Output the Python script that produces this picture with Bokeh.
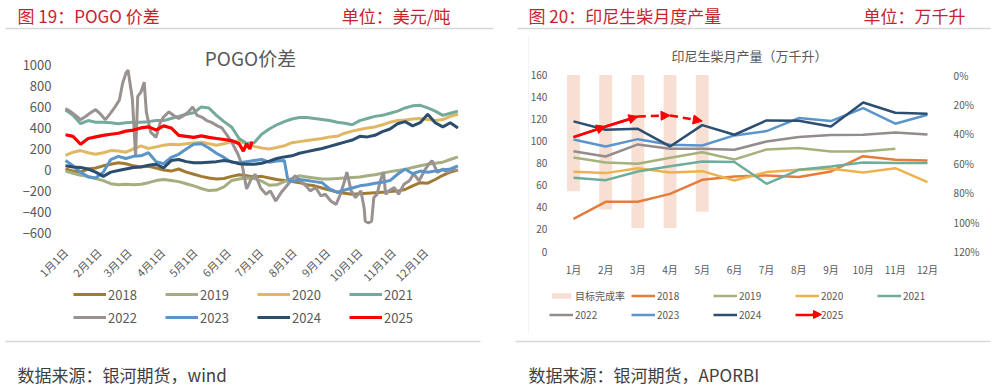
import math
from bokeh.plotting import figure
from bokeh.models import (Range1d, FixedTicker, Label, PolyAnnotation, Legend, LegendItem,
                          Arrow, NormalHead, ColumnDataSource, LinearAxis, PrintfTickFormatter)
from bokeh.embed import file_html
from bokeh.resources import INLINE

CJK = "Noto Sans CJK SC"
HEAD_RED = "#C8232C"
TXT = "#595959"
RULE = "#7F7F7F"
W, H = 996, 387

# ---------------- left chart: POGO spread (USD/t) ----------------
month_start_days = [0, 31, 59, 90, 120, 151, 181, 212, 243, 273, 304, 334]
month_day_labels = ["1月1日", "2月1日", "3月1日", "4月1日", "5月1日", "6月1日",
                    "7月1日", "8月1日", "9月1日", "10月1日", "11月1日", "12月1日"]
pogo_y_ticks = [-600, -400, -200, 0, 200, 400, 600, 800, 1000]

week_days = [0, 7, 14, 21, 28, 35, 42, 49, 56, 63, 70, 77, 84, 91, 98, 105, 112, 119,
             126, 133, 140, 147, 154, 161, 168, 175, 182, 189, 196, 203, 210, 217, 224,
             231, 238, 245, 252, 259, 266, 273, 280, 287, 294, 301, 308, 315, 322, 329,
             336, 343, 350, 357, 364]

pogo_2018 = [10, -10, -20, 10, 20, 40, 55, 70, 60, 40, 30, 35, 20, 0, -10, 10, -20, -40,
             -60, -75, -85, -80, -60, -45, -55, -65, -60, -75, -90, -100, -110, -120, -140,
             -150, -170, -190, -210, -220, -230, -225, -220, -215, -210, -205, -200, -185,
             -150, -120, -125, -90, -50, -20, 0]
pogo_2019 = [-10, -30, -50, -60, -80, -100, -130, -140, -135, -140, -135, -120, -100, -90,
             -100, -110, -130, -150, -175, -195, -190, -160, -100, -85, -75, -80, -105, -145,
             -140, -110, -80, -55, -65, -75, -85, -85, -80, -75, -70, -65, -55, -45, -30, -15,
             -5, 5, 25, 40, 55, 65, 75, 100, 125]
pogo_2020 = [140, 170, 185, 165, 150, 165, 185, 180, 170, 200, 230, 205, 220, 235, 245, 240,
             250, 258, 265, 250, 235, 250, 270, 275, 250, 225, 210, 200, 215, 230, 260, 270,
             280, 290, 300, 315, 320, 350, 370, 385, 400, 410, 430, 455, 470, 475, 485, 490,
             480, 470, 480, 510, 530]
pogo_2021 = [570, 520, 440, 470, 455, 455, 450, 440, 450, 455, 455, 460, 470, 470, 490, 510,
             530, 545, 600, 590, 520, 460, 410, 300, 255, 260, 340, 390, 430, 460, 485, 500,
             500, 490, 480, 470, 455, 445, 430, 470, 490, 510, 520, 540, 560, 590, 610, 615,
             590, 560, 520, 540, 560]
pogo_2024 = [40, 30, 25, 10, -20, -60, -20, -5, 10, 25, 30, 45, 55, 20, 90, 100, 80, 70, 70,
             75, 80, 90, 80, 60, 55, 55, 65, 85, 110, 125, 135, 160, 175, 190, 205, 225, 245,
             265, 285, 320, 315, 330, 365, 390, 440, 460, 420, 450, 530, 450, 410, 450, 400]

days_2022 = [0, 5, 9, 14, 19, 23, 28, 32, 37, 42, 46, 50, 53, 56, 58, 62, 65, 67, 70, 73,
             75, 79, 84, 88, 91, 96, 100, 105, 110, 114, 118, 122, 127, 131, 136, 141, 145,
             150, 155, 160, 164, 168, 172, 176, 181, 186, 190, 195, 200, 204, 209, 213, 218,
             223, 227, 232, 237, 241, 246, 251, 255, 259, 261, 265, 269, 274, 277, 278, 281,
             284, 286, 289, 292, 295, 297, 300, 305, 309, 314, 319, 323, 328, 333, 337, 340,
             345, 350, 354, 359, 364]
pogo_2022 = [585, 553, 521, 479, 511, 543, 575, 537, 479, 543, 600, 665, 824, 920, 950, 680,
             140, 700, 740, 835, 550, 360, 310, 455, 505, 553, 521, 489, 521, 553, 600, 520,
             500, 470, 450, 420, 400, 330, 250, 150, 40, -180, -90, -40, -170, -230, -198,
             -294, -214, -166, -102, -54, -102, -150, -198, -166, -246, -230, -294, -326,
             -230, -100, -20, -198, -262, -198, -358, -486, -502, -486, -262, -230, -102,
             -22, -230, -198, -166, -230, -134, -102, -38, -102, -6, 58, 89, -22, 10, -22,
             10, -6]

days_2023 = [0, 7, 14, 21, 28, 35, 42, 49, 56, 63, 70, 77, 84, 91, 98, 105, 112, 119, 126,
             133, 140, 147, 154, 161, 168, 175, 182, 189, 196, 203, 206, 210, 217, 224, 231,
             238, 245, 252, 259, 266, 273, 280, 287, 294, 301, 308, 315, 322, 329, 336, 343,
             350, 357, 364]
pogo_2023 = [90, 40, -20, -65, -75, -20, 100, 130, 110, 130, 135, 165, 80, 60, 120, 150, 200,
             245, 250, 210, 160, 120, 75, 70, 80, 90, 100, 75, 85, 90, -80, -110, -90, -100,
             -110, -120, -180, -210, -190, -170, -150, -140, -125, -115, -100, -40, 10, -35,
             -10, -20, -10, 0, 10, 40]

days_2025 = [0, 7, 14, 21, 28, 35, 42, 49, 56, 63, 70, 77, 84, 91, 98, 105, 112, 119, 126,
             133, 140, 147, 154, 161, 165, 168, 171, 173]
pogo_2025 = [335, 320, 245, 300, 315, 330, 340, 350, 370, 380, 400, 410, 380, 420, 400, 330,
             320, 310, 325, 310, 300, 290, 280, 250, 180, 250, 200, 270]

pogo_years = ["2018", "2019", "2020", "2021", "2022", "2023", "2024", "2025"]
pogo_colors = ["#A27B32", "#A4AE80", "#E0B762", "#74AA9B", "#9A9191", "#5A94C8",
               "#2B4D6E", "#FF0000"]
pogo_series = [(week_days, pogo_2018), (week_days, pogo_2019), (week_days, pogo_2020),
               (week_days, pogo_2021), (days_2022, pogo_2022), (days_2023, pogo_2023),
               (week_days, pogo_2024), (days_2025, pogo_2025)]
for d, v in pogo_series:
    assert len(d) == len(v), (len(d), len(v))

# ---------------- right chart: Indonesia biodiesel monthly output ----------------
months = ["1月", "2月", "3月", "4月", "5月", "6月", "7月", "8月", "9月", "10月", "11月", "12月"]
prod_ticks = [0, 20, 40, 60, 80, 100, 120, 140, 160]
rate_ticks = [0, 20, 40, 60, 80, 100, 120]
target_rate = [79, 91.5, 104, 104, 93]          # 目标完成率 (%)
prod_2018 = [29.6, 45.1, 45.1, 52.3, 65.0, 68.0, 69.0, 67.5, 72.6, 86.5, 83.2, 82.6]
prod_2019 = [85.3, 80.8, 79.6, 85.0, 90.1, 83.5, 92.6, 93.8, 90.7, 90.7, 93.2]
prod_2020 = [72.3, 71.1, 75.6, 71.7, 72.9, 64.4, 72.0, 74.1, 75.0, 71.7, 75.6, 62.9]
prod_2021 = [66.8, 64.7, 72.6, 77.4, 81.7, 81.1, 61.4, 74.1, 77.1, 80.8, 80.2, 80.2]
prod_2022 = [91.0, 86.2, 97.1, 93.2, 93.2, 92.3, 99.8, 103.8, 105.6, 105.9, 108.0, 106.2]
prod_2023 = [101.6, 95.3, 101.9, 96.8, 96.2, 105.3, 109.2, 121.0, 118.3, 130.0, 115.9, 124.0]
prod_2024 = [118.0, 110.4, 111.3, 95.3, 114.6, 105.9, 118.9, 118.6, 113.4, 135.2, 125.8, 124.9]
prod_2025 = [103.7, 113.4, 122.5, 123.4, 118.3]
prod_colors = ["#E67C3A", "#A6B27C", "#EDB24E", "#6EAD9B", "#948B8B", "#5B95CB", "#2D4E70"]
prod_series = [prod_2018, prod_2019, prod_2020, prod_2021, prod_2022, prod_2023, prod_2024]
month_pos = list(range(1, len(months) + 1))


# ---------------- one canvas; each chart gets its own scales ----------------
def span_range(v0, c0, v1, c1, total):
    """Range whose values v0/v1 fall on canvas pixels c0/c1 (canvas spans 0..total)."""
    k = (v1 - v0) / (c1 - c0)
    return Range1d(start=v0 - c0 * k, end=v0 + (total - c0) * k)


p = figure(width=W, height=H, x_range=Range1d(0, W), y_range=Range1d(0, H),
           x_axis_type=None, y_axis_type=None, min_border=0, output_backend="svg",
           toolbar_location=None, outline_line_color=None)
p.background_fill_color = "white"

# left plot area: day 0 at x=65, day 364 at x=457; 1000 at y=64, -600 at y=233 (from top)
p.extra_x_ranges["xl"] = span_range(0, 65.0, 364, 457.4, W)
p.extra_y_ranges["yl"] = span_range(-600, H - 232.7, 1000, H - 64.3, H)
# right plot area: month 1 at x=573, month 12 at x=927; 0 at y=251, 160 at y=74.6
p.extra_x_ranges["xr"] = span_range(1, 573.0, 12, 927.0, W)
p.extra_y_ranges["yr"] = span_range(0, H - 251.0, 160, H - 74.6, H)
p.extra_y_ranges["rate"] = span_range(0, H - 74.6, 120, H - 251.0, H)


def style_axis(ax, size, standoff):
    ax.axis_line_color = None
    ax.major_tick_line_color = None
    ax.minor_tick_line_color = None
    ax.major_tick_out = 0
    ax.major_tick_in = 0
    ax.minor_tick_out = 0
    ax.minor_tick_in = 0
    ax.major_label_text_font = CJK
    ax.major_label_text_font_size = size
    ax.major_label_text_color = TXT
    ax.major_label_standoff = standoff


def text(x, y, s, size, color, align="left"):
    p.add_layout(Label(x=x, y=H - y, text=s, text_font=CJK, text_font_size=size,
                       text_color=color, text_align=align, text_baseline="middle"))


def rule(xs, ys, color=RULE, width=1.5):
    p.add_layout(PolyAnnotation(xs=xs, ys=[H - y for y in ys], line_color=color,
                                line_width=width, fill_alpha=0))


# ---- left chart ----
ax = LinearAxis(x_range_name="xl", y_range_name="yl", fixed_location=week_days[0],
                ticker=FixedTicker(ticks=pogo_y_ticks))
style_axis(ax, "13px", 14)
p.add_layout(ax, "left")
ax = LinearAxis(x_range_name="xl", y_range_name="yl", fixed_location=pogo_y_ticks[0],
                ticker=FixedTicker(ticks=month_start_days),
                major_label_overrides={d: s for d, s in zip(month_start_days, month_day_labels)},
                major_label_orientation=math.pi / 4)
style_axis(ax, "11px", 17)
p.add_layout(ax, "below")
p.add_layout(PolyAnnotation(xs=[week_days[0], week_days[-1]], ys=[0, 0], x_range_name="xl",
                            y_range_name="yl", line_color="#D9D9D9", line_width=1,
                            fill_alpha=0))

items1 = []
for yr, col, (d, v) in zip(pogo_years, pogo_colors, pogo_series):
    r = p.line(d, v, x_range_name="xl", y_range_name="yl", line_color=col,
               line_width=3.2 if yr == "2025" else 3)
    items1.append(LegendItem(label=yr, renderers=[r]))
p.add_layout(Legend(items=items1, ncols=4, orientation="horizontal", location=(73, H - 327.5),
                    glyph_width=33, glyph_height=10, label_height=21, label_width=55,
                    label_standoff=2, spacing=2, padding=0, margin=0, border_line_color=None,
                    background_fill_alpha=0, label_text_font=CJK, label_text_font_size="13px",
                    label_text_color=TXT))

text(17, 15, "图 19：POGO 价差", "17px", HEAD_RED)
text(450, 15, "单位：美元/吨", "17px", HEAD_RED, align="right")
rule([5, 493], [28, 28])
text(250, 57, "POGO价差", "19px", TXT, align="center")
rule([5, 480], [341, 341])
text(17, 374, "数据来源：银河期货，wind", "17px", "#404040")

# ---- right chart ----
rule([528, 528], [35, 333], color="#D9D9D9", width=1)
bars = p.vbar(x=month_pos[:len(target_rate)], top=0, bottom=target_rate, width=0.4,
              x_range_name="xr", y_range_name="rate", fill_color="#F7E0D3", line_color=None)
ax = LinearAxis(x_range_name="xr", y_range_name="yr", fixed_location=month_pos[0] - 0.5,
                ticker=FixedTicker(ticks=prod_ticks))
style_axis(ax, "10px", 10)
p.add_layout(ax, "left")
ax = LinearAxis(x_range_name="xr", y_range_name="rate", fixed_location=month_pos[-1] + 0.5,
                ticker=FixedTicker(ticks=rate_ticks), formatter=PrintfTickFormatter(format="%d%%"))
style_axis(ax, "10px", 10)
ax.major_label_text_align = "left"
p.add_layout(ax, "right")
ax = LinearAxis(x_range_name="xr", y_range_name="yr", fixed_location=prod_ticks[0],
                ticker=FixedTicker(ticks=month_pos),
                major_label_overrides={i: m for i, m in zip(month_pos, months)})
style_axis(ax, "10px", 10)
p.add_layout(ax, "below")
p.add_layout(PolyAnnotation(xs=[month_pos[0] - 0.5, month_pos[-1] + 0.5], ys=[0, 0],
                            x_range_name="xr", y_range_name="yr", line_color="#D9D9D9",
                            line_width=1, fill_alpha=0))

items2 = [LegendItem(label="目标完成率", renderers=[bars])]
for yr, col, vals in zip(pogo_years[:7], prod_colors, prod_series):
    r = p.line(month_pos[:len(vals)], vals, x_range_name="xr", y_range_name="yr",
               line_color=col, line_width=2.5)
    items2.append(LegendItem(label=yr, renderers=[r]))

n25 = len(prod_2025)
r25 = p.line(month_pos[:3], prod_2025[:3], x_range_name="xr", y_range_name="yr",
             line_color="#FF0000", line_width=2.5)
src_solid = ColumnDataSource(dict(x0=month_pos[0:2], y0=prod_2025[0:2],
                                  x1=month_pos[1:3], y1=prod_2025[1:3]))
src_dash = ColumnDataSource(dict(x0=month_pos[2:n25 - 1], y0=prod_2025[2:n25 - 1],
                                 x1=month_pos[3:n25], y1=prod_2025[3:n25]))
for src, dash in ((src_solid, "solid"), (src_dash, "8 5")):
    p.add_layout(Arrow(end=NormalHead(size=9, fill_color="#FF0000", line_color="#FF0000"),
                       source=src, x_start="x0", y_start="y0", x_end="x1", y_end="y1",
                       x_range_name="xr", y_range_name="yr",
                       line_color="#FF0000", line_width=2.5, line_dash=dash))
items2.append(LegendItem(label="2025", renderers=[r25]))
p.add_layout(Legend(items=items2, ncols=5, orientation="horizontal", location=(549, H - 322.5),
                    glyph_width=24, glyph_height=7, label_height=17, label_width=54,
                    label_standoff=2, spacing=2, padding=0, margin=0, border_line_color=None,
                    background_fill_alpha=0, label_text_font=CJK, label_text_font_size="10px",
                    label_text_color=TXT))
# arrow tip on the 2025 legend swatch
p.add_layout(Arrow(end=NormalHead(size=8, fill_color="#FF0000", line_color="#FF0000"),
                   x_start=812, y_start=H - 314, x_end=821, y_end=H - 314,
                   line_color="#FF0000", line_width=2.5))

text(528, 15, "图 20：印尼生柴月度产量", "17px", HEAD_RED)
text(965, 15, "单位：万千升", "17px", HEAD_RED, align="right")
rule([517, 990], [28, 28])
text(749, 55, "印尼生柴月产量（万千升）", "13px", TXT, align="center")
rule([515, 990], [341, 341])
text(528, 374, "数据来源：银河期货，APORBI", "17px", "#404040")

open("out.html", "w").write(file_html(p, INLINE))
